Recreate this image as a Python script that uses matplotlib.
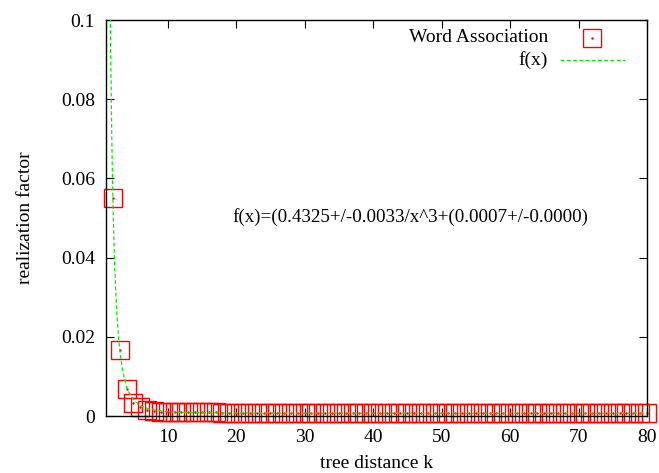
import numpy as np
import matplotlib
matplotlib.use('Agg')
import matplotlib.pyplot as plt

plt.rcParams['font.family'] = ['Liberation Serif', 'DejaVu Serif']
plt.rcParams['font.size'] = 14

# measured realization factor for tree distance k = 2..80
k = list(range(2, 81))
factor = [0.0551, 0.0167, 0.0067, 0.0034, 0.0023, 0.0016, 0.0013, 0.0011, 0.0010,
          0.0010, 0.0009, 0.0009, 0.0009, 0.0009, 0.0009, 0.0009, 0.0008, 0.0008,
          0.0008, 0.0008, 0.0008, 0.0008, 0.0008, 0.0008, 0.0008, 0.0008, 0.0008,
          0.0008, 0.0008, 0.0008, 0.0008, 0.0008, 0.0008, 0.0008, 0.0008, 0.0008,
          0.0008, 0.0008, 0.0008, 0.0008, 0.0008, 0.0008, 0.0008, 0.0008, 0.0008,
          0.0008, 0.0008, 0.0008, 0.0008, 0.0008, 0.0008, 0.0008, 0.0008, 0.0008,
          0.0008, 0.0008, 0.0008, 0.0008, 0.0008, 0.0008, 0.0008, 0.0008, 0.0008,
          0.0008, 0.0008, 0.0008, 0.0008, 0.0008, 0.0008, 0.0008, 0.0008, 0.0008,
          0.0008, 0.0008, 0.0008, 0.0008, 0.0008, 0.0008, 0.0008]

# fit f(x) = a/x^3 + b, coefficients from the plot label
fit_a = 0.4325
fit_b = 0.0007
fit_label = 'f(x)=(0.4325+/-0.0033/x^3+(0.0007+/-0.0000)'

xticks = [10, 20, 30, 40, 50, 60, 70, 80]
yticks = [0, 0.02, 0.04, 0.06, 0.08, 0.1]
ytick_labels = ['0', '0.02', '0.04', '0.06', '0.08', '0.1']

fig = plt.figure(figsize=(6.59, 4.73), dpi=100)
ax = fig.add_axes([0.1609, 0.1205, 0.8209, 0.8372])

xs = np.linspace(1, 80, 2000)
ax.plot(xs, fit_a / xs ** 3 + fit_b, color='#00ee00', lw=0.9, ls=(0, (3, 2)), zorder=3)

ax.plot(k, factor, ls='none', marker='s', ms=13, mfc='none', mec='red', mew=1.0,
        clip_on=False, zorder=2)
ax.plot(k, factor, ls='none', marker='.', ms=1.5, color='red', clip_on=False, zorder=2)

ax.set_xlim(1, 80)
ax.set_ylim(0, 0.1)
ax.set_xticks(xticks)
ax.set_yticks(yticks)
ax.set_yticklabels(ytick_labels)
ax.tick_params(direction='in', length=6, width=0.8, top=True, right=True,
               labelsize=14)
ax.tick_params(axis='x', pad=9)
ax.tick_params(axis='y', pad=8)
for s in ax.spines.values():
    s.set_linewidth(1.0)

ax.set_xlabel('tree distance k', fontsize=14, labelpad=7)
ax.set_ylabel('realization factor', fontsize=14, labelpad=19)

ax.text(19.5, 0.0503, fit_label, fontsize=13.7, va='center', ha='left')

# key in the upper right corner
tr = ax.transAxes
ax.text(0.817, 0.957, 'Word Association', transform=tr, ha='right', va='center', fontsize=14)
ax.plot([0.898], [0.955], transform=tr, marker='s', ms=13, mfc='none', mec='red', mew=1.0)
ax.plot([0.898], [0.955], transform=tr, marker='.', ms=1.5, color='red')
ax.text(0.817, 0.899, 'f(x)', transform=tr, ha='right', va='center', fontsize=14)
ax.plot([0.839, 0.959], [0.899, 0.899], transform=tr, color='#00ee00', lw=0.9,
        ls=(0, (3, 2)))

fig.savefig('out.png', dpi=100)
